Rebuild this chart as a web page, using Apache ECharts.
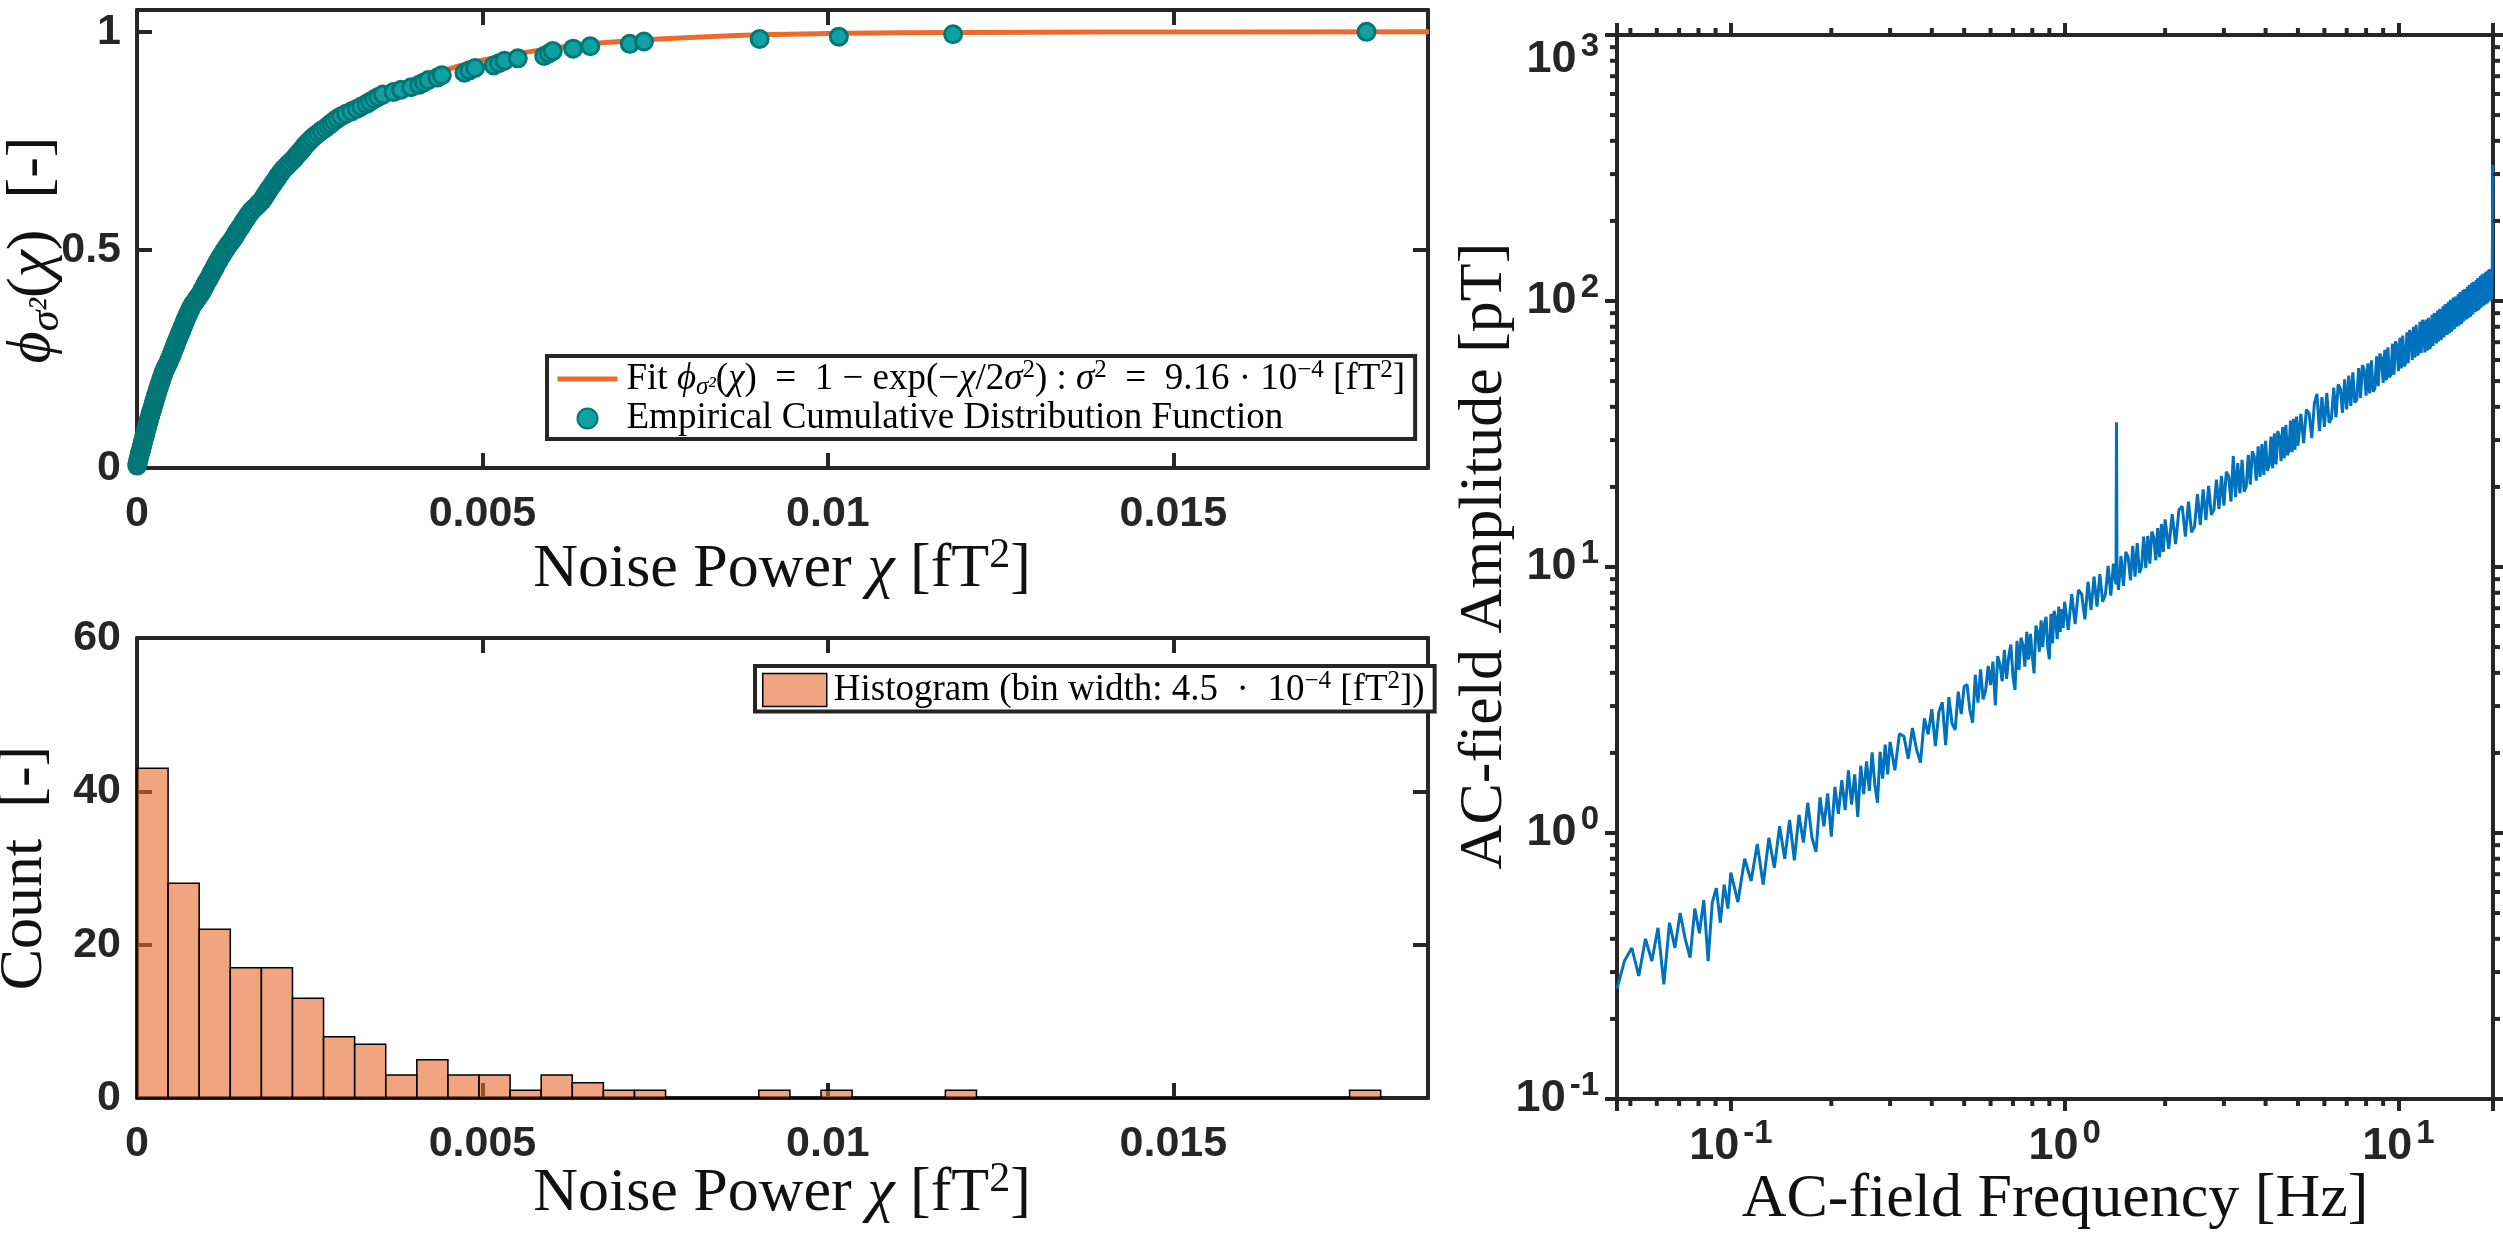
<!DOCTYPE html>
<html>
<head>
<meta charset="utf-8">
<script src="https://cdn.jsdelivr.net/npm/echarts@6/dist/echarts.min.js"></script>
<style>
  html, body { margin: 0; padding: 0; background: #fff; }
  #chart { width: 2503px; height: 1238px; }
</style>
</head>
<body>
<div id="chart"></div>
<script>
const noiseSamples = [
  0.000003, 0.000009, 0.000018, 0.000024, 0.000035, 0.000041, 0.000052, 0.000064, 0.000069, 0.000081,
  0.000088, 0.000097, 0.000106, 0.000119, 0.000124, 0.000137, 0.000146, 0.000152, 0.000166, 0.000171,
  0.000183, 0.000195, 0.000201, 0.000214, 0.000226, 0.000232, 0.000247, 0.000255, 0.000268, 0.000274,
  0.000289, 0.000296, 0.000311, 0.000318, 0.000332, 0.000345, 0.000352, 0.000368, 0.000379, 0.000391,
  0.000406, 0.000423, 0.000441,
  0.000458, 0.000471, 0.000489, 0.000502, 0.000511, 0.000528, 0.000544, 0.000553, 0.000569, 0.000581,
  0.000597, 0.000612, 0.000624, 0.000641, 0.000652, 0.000668, 0.000683, 0.000694, 0.000712, 0.000726,
  0.000741, 0.000758, 0.000774, 0.000791, 0.000812, 0.000838, 0.000861, 0.000887,
  0.000912, 0.000934, 0.000951, 0.000969, 0.000988, 0.001004, 0.001027, 0.001049, 0.001066, 0.001081,
  0.001102, 0.001124, 0.001139, 0.001157, 0.001178, 0.001196, 0.001221, 0.001243, 0.001262, 0.001287,
  0.001309, 0.001334,
  0.001362, 0.001388, 0.001409, 0.001431, 0.001447, 0.001476, 0.001498, 0.001523, 0.001541, 0.001567,
  0.001589, 0.001612, 0.001638, 0.001667, 0.001702, 0.001741, 0.001774,
  0.001809, 0.001832, 0.001851, 0.001878, 0.001896, 0.001921, 0.001947, 0.001968, 0.001994, 0.002019,
  0.002041, 0.002068, 0.002093, 0.002121, 0.002157, 0.002189, 0.002226,
  0.002263, 0.002291, 0.002318, 0.002352, 0.002384, 0.002409, 0.002437, 0.002471, 0.002503, 0.002541,
  0.002582, 0.002626, 0.002671,
  0.002724, 0.002768, 0.002811, 0.002853, 0.002902, 0.002958, 0.003027, 0.003104,
  0.003181, 0.003246, 0.003318, 0.003372, 0.003433, 0.003492, 0.003561,
  0.003712, 0.003824, 0.003968,
  0.004083, 0.004152, 0.004218, 0.004346, 0.004412,
  0.004738, 0.004812, 0.004893,
  0.005163, 0.005241, 0.005318,
  0.005512,
  0.005893, 0.005961, 0.006018,
  0.006312, 0.006561,
  0.007132, 0.007338,
  0.009012, 0.010158, 0.011812, 0.017795
];

// exponential fit
const fitX = [0, 0.00025, 0.0005, 0.00075, 0.001, 0.00125, 0.0015, 0.00175, 0.002, 0.0025, 0.003, 0.0035,
  0.004, 0.0045, 0.005, 0.006, 0.007, 0.008, 0.009, 0.010, 0.012, 0.014, 0.016, 0.0187];
const fitY = [0, 0.128, 0.239, 0.336, 0.421, 0.495, 0.559, 0.615, 0.664, 0.744, 0.806, 0.852,
  0.887, 0.914, 0.935, 0.962, 0.978, 0.987, 0.993, 0.996, 0.9986, 0.9995, 0.9998, 1.0];

// histogram
const histBinWidth = 0.00045;
const histCounts = [43, 28, 22, 17, 17, 13, 8, 7, 3, 5, 3, 3, 1, 3, 2, 1, 1, 0, 0, 0,
  1, 0, 1, 0, 0, 0, 1, 0, 0, 0, 0, 0, 0, 0, 0, 0, 0, 0, 0, 1];

// AC-field spectrum: frequency [Hz] and amplitude [pT]
const freqHz = [
  0.0456, 0.048, 0.0505, 0.053, 0.0555, 0.058, 0.0605, 0.063, 0.0655, 0.068,
  0.0705, 0.073, 0.0755, 0.078, 0.0805, 0.083, 0.0855, 0.088, 0.0905, 0.093,
  0.0955, 0.098,
  0.100, 0.105, 0.110, 0.115, 0.120, 0.125, 0.130, 0.135, 0.140, 0.145,
  0.150, 0.155, 0.160, 0.165, 0.170, 0.175, 0.180, 0.185, 0.190, 0.195,
  0.200, 0.205, 0.210, 0.215, 0.220, 0.225, 0.230, 0.235, 0.240, 0.245,
  0.250, 0.255, 0.260, 0.265, 0.270, 0.275, 0.280, 0.285, 0.290, 0.295,
  0.30, 0.31, 0.32, 0.33, 0.34, 0.35, 0.36, 0.37, 0.38, 0.39,
  0.40, 0.41, 0.42, 0.43, 0.44, 0.45, 0.46, 0.47, 0.48, 0.49,
  0.50, 0.51, 0.52, 0.53, 0.54, 0.55, 0.56, 0.57, 0.58, 0.59,
  0.60, 0.61, 0.62, 0.63, 0.64, 0.65, 0.66, 0.67, 0.68, 0.69,
  0.70, 0.71, 0.72, 0.73, 0.74, 0.75, 0.76, 0.77, 0.78, 0.79,
  0.80, 0.81, 0.82, 0.83, 0.84, 0.85, 0.86, 0.87, 0.88, 0.89,
  0.90, 0.91, 0.92, 0.93, 0.94, 0.95, 0.96, 0.97, 0.98, 0.99,
  1.000, 1.025, 1.050, 1.075, 1.100, 1.125, 1.150, 1.175, 1.200, 1.225,
  1.250, 1.275, 1.300, 1.325, 1.350, 1.375, 1.400, 1.425, 1.430, 1.435,
  1.450, 1.475, 1.500, 1.525, 1.550, 1.575, 1.600, 1.625, 1.650, 1.675,
  1.700, 1.725, 1.750, 1.775, 1.800, 1.825, 1.850, 1.875, 1.900, 1.925,
  1.950, 1.975,
  2.00, 2.05, 2.10, 2.15, 2.20, 2.25, 2.30, 2.35, 2.40, 2.45,
  2.50, 2.55, 2.60, 2.65, 2.70, 2.75, 2.80, 2.85, 2.90, 2.95,
  3.00, 3.05, 3.10, 3.15, 3.20, 3.25, 3.30, 3.35, 3.40, 3.45,
  3.50, 3.55, 3.60, 3.65, 3.70, 3.75, 3.80, 3.85, 3.90, 3.95,
  4.00, 4.05, 4.10, 4.15, 4.20, 4.25, 4.30, 4.35, 4.40, 4.45,
  4.50, 4.55, 4.60, 4.65, 4.70, 4.75, 4.80, 4.85, 4.90, 4.95,
  5.0, 5.1, 5.2, 5.3, 5.4, 5.5, 5.6, 5.7, 5.8, 5.9,
  6.0, 6.1, 6.2, 6.3, 6.4, 6.5, 6.6, 6.7, 6.8, 6.9,
  7.0, 7.1, 7.2, 7.3, 7.4, 7.5, 7.6, 7.7, 7.8, 7.9,
  8.0, 8.1, 8.2, 8.3, 8.4, 8.5, 8.6, 8.7, 8.8, 8.9,
  9.0, 9.1, 9.2, 9.3, 9.4, 9.5, 9.6, 9.7, 9.8, 9.9,
  10.0, 10.1, 10.2, 10.3, 10.4, 10.5, 10.6, 10.7, 10.8, 10.9,
  11.0, 11.1, 11.2, 11.3, 11.4, 11.5, 11.6, 11.7, 11.8, 11.9,
  12.0, 12.1, 12.2, 12.3, 12.4, 12.5, 12.6, 12.7, 12.8, 12.9,
  13.0, 13.1, 13.2, 13.3, 13.4, 13.5, 13.6, 13.7, 13.8, 13.9,
  14.0, 14.1, 14.2, 14.3, 14.4, 14.5, 14.6, 14.7, 14.8, 14.9,
  15.0, 15.1, 15.2, 15.3, 15.4, 15.5, 15.6, 15.7, 15.8, 15.9,
  16.0, 16.1, 16.2, 16.3, 16.4, 16.5, 16.6, 16.7, 16.8, 16.9,
  17.0, 17.1, 17.2, 17.3, 17.4, 17.5, 17.6, 17.7, 17.8, 17.9,
  18.0, 18.1, 18.2, 18.3, 18.4, 18.5, 18.6, 18.7, 18.8, 18.9,
  19.0, 19.1, 19.2
];
const ampPT = [
  0.26, 0.33, 0.37, 0.29, 0.40, 0.33, 0.44, 0.27, 0.46, 0.37,
  0.50, 0.40, 0.34, 0.52, 0.42, 0.56, 0.33, 0.55, 0.62, 0.46,
  0.64, 0.52,
  0.71, 0.55, 0.80, 0.66, 0.91, 0.64, 0.96, 0.74, 1.06, 0.80,
  1.12, 0.79, 1.17, 0.92, 1.30, 0.96, 0.85, 1.36, 1.06, 1.41,
  0.97, 1.49, 1.18, 1.58, 1.22, 1.72, 1.28, 1.66, 1.15, 1.79,
  1.40, 1.86, 1.44, 2.01, 1.52, 1.30, 2.02, 1.60, 2.15, 1.66,
  2.20, 1.72, 2.36, 2.31, 1.90, 2.48, 2.06, 1.84, 2.70, 2.35,
  2.92, 2.12, 2.85, 3.10, 2.14, 3.24, 2.58, 2.44, 3.40, 2.80,
  3.55, 3.62, 2.90, 2.60, 3.93, 3.09, 4.12, 3.18, 3.44, 4.25,
  3.60, 4.41, 3.02, 4.62, 4.30, 3.72, 4.88, 3.80, 4.60, 5.11,
  3.90, 3.45, 5.28, 4.10, 5.42, 5.10, 4.22, 5.70, 4.48, 5.60,
  4.62, 3.98, 6.02, 5.70, 4.80, 6.30, 5.00, 6.12, 6.50, 4.98,
  4.50, 6.67, 5.16, 6.85, 6.40, 5.35, 7.10, 5.70, 6.95, 5.90,
  7.40, 5.80, 7.90, 6.10, 8.20, 7.90, 6.35, 8.80, 6.90, 9.20,
  7.10, 9.40, 7.40, 7.90, 10.1, 7.80, 10.3, 8.60, 35.0, 9.80,
  8.20, 11.0, 8.50, 11.4, 10.9, 8.90, 12.0, 9.20, 12.3, 9.50,
  10.0, 13.0, 9.90, 13.1, 10.3, 13.6, 12.9, 10.6, 14.0, 10.9,
  14.5, 11.4,
  15.1, 11.7, 15.8, 12.2, 16.4, 16.9, 13.0, 17.6, 13.5, 14.2,
  18.8, 14.4, 19.6, 15.0, 20.2, 15.7, 16.4, 21.3, 16.5, 22.0,
  17.0, 22.8, 21.9, 17.6, 26.1, 18.3, 24.6, 18.9, 25.3, 19.2,
  20.1, 26.4, 20.4, 27.2, 26.0, 21.1, 28.4, 21.8, 29.0, 22.2,
  29.8, 23.0, 24.1, 30.9, 23.5, 31.8, 24.3, 32.4, 31.0, 25.0,
  33.6, 25.6, 34.2, 26.3, 27.5, 35.5, 27.0, 36.1, 27.6, 36.8,
  28.6, 37.6, 29.2, 39.1, 37.8, 30.5, 41.2, 44.8, 32.4, 43.5,
  33.6, 45.1, 34.8, 36.2, 47.2, 36.5, 48.6, 46.8, 38.0, 50.8,
  39.1, 52.4, 40.3, 53.9, 41.5, 42.6, 56.0, 43.2, 57.4, 55.0,
  44.1, 58.3, 44.9, 59.8, 45.6, 47.0, 61.9, 47.8, 63.4, 60.9,
  49.2, 65.6, 50.3, 67.0, 51.6, 53.0, 69.1, 52.9, 70.6, 67.8,
  54.5, 72.7, 55.8, 74.2, 56.9, 58.1, 76.3, 58.4, 77.8, 74.6,
  60.0, 79.9, 61.2, 81.4, 62.4, 63.9, 83.5, 63.8, 85.0, 81.5,
  64.0, 85.1, 65.1, 86.5, 66.1, 67.8, 88.7, 67.7, 90.0, 86.2,
  69.3, 92.1, 70.4, 93.5, 71.5, 73.3, 95.6, 73.0, 97.1, 92.9,
  74.6, 99.1, 75.7, 101, 76.8, 78.7, 103, 78.4, 104, 99.5,
  80.0, 106, 81.0, 108, 82.1, 84.1, 110, 83.7, 111, 106,
  85.3, 113, 86.4, 115, 87.4, 89.5, 117, 89.0, 118, 113,
  90.7, 120, 91.7, 122, 92.8, 94.9, 124, 94.3, 126, 120,
  96.0, 127, 97.1, 129, 98.1, 100, 131, 99.7, 132, 126,
  101, 134, 325
];

const noiseMax = 0.018685;
const xLogMin = 0.0456, xLogMax = 19.2;
const yLogMin = 0.1, yLogMax = 1000;

const INK = '#262626';
const SANS = '"Liberation Sans", Arial, Helvetica, sans-serif';
const SERIF = '"Liberation Serif", "Times New Roman", serif';

const ecdfData = noiseSamples.map((x, i) => [x, (i + 1) / noiseSamples.length]);
const fitData = fitX.map((x, i) => [x, fitY[i]]);
const histData = histCounts.map((c, i) => [i * histBinWidth, (i + 1) * histBinWidth, c]);
const specData = freqHz.map((f, i) => [f, ampPT[i]]);

// minor tick positions of the log-log panel
const minorX = [];
for (let k = -2; k <= 1; k++) {
  for (let m = 2; m <= 9; m++) {
    const v = m * Math.pow(10, k);
    if (v > xLogMin && v < xLogMax) minorX.push(v);
  }
}
const minorY = [];
for (let k = -1; k <= 2; k++) {
  for (let m = 2; m <= 9; m++) minorY.push(m * Math.pow(10, k));
}

const tickFont = { fontFamily: SANS, fontWeight: 'bold', fontSize: 43, color: INK };
const lineStyleAx = { color: INK, width: 4 };

function stepLabel (step) {
  return v => {
    const r = v / step;
    return Math.abs(r - Math.round(r)) < 1e-6 ? String(+v.toFixed(4)) : '';
  };
}

function powLabel (v) {
  const l = Math.log10(v);
  const e = Math.round(l);
  if (Math.abs(l - e) > 1e-6) return '';
  const s = '{b|10}{s|' + e + '}';
  return e === 3 ? '{gap| }\n' + s : s;
}

const powRich = {
  b: { fontFamily: SANS, fontWeight: 'bold', fontSize: 45, lineHeight: 60, color: INK },
  s: { fontFamily: SANS, fontWeight: 'bold', fontSize: 33, lineHeight: 32, color: INK, verticalAlign: 'top', padding: [0, 0, 0, 4] },
  gap: { fontSize: 10, lineHeight: 50 }
};

function linAxis (gridIndex, position, min, max, interval, showLabel, margin) {
  return {
    gridIndex, type: 'value', position, min, max, interval,
    axisLine: { show: true, onZero: false, lineStyle: lineStyleAx },
    axisTick: { show: true, inside: true, length: 15, lineStyle: lineStyleAx },
    axisLabel: showLabel
      ? { ...tickFont, margin, formatter: stepLabel(interval) }
      : { show: false },
    splitLine: { show: false }
  };
}

function logAxis (gridIndex, position, min, max, showLabel, margin) {
  return {
    gridIndex, type: 'log', logBase: 10, position, min, max,
    axisLine: { show: true, onZero: false, lineStyle: lineStyleAx },
    axisTick: { show: true, inside: false, length: 12, lineStyle: lineStyleAx },
    axisLabel: showLabel
      ? { margin, formatter: powLabel, rich: powRich }
      : { show: false },
    splitLine: { show: false },
    minorTick: { show: false }
  };
}

const tRich = {
  r: { fontFamily: SERIF, fontSize: 62, color: '#111', lineHeight: 70 },
  i: { fontFamily: SERIF, fontSize: 62, fontStyle: 'italic', color: '#111', lineHeight: 70 },
  sp: { fontFamily: SERIF, fontSize: 42, color: '#111', lineHeight: 42, verticalAlign: 'top' },
  sb: { fontFamily: SERIF, fontSize: 42, fontStyle: 'italic', color: '#111', lineHeight: 42, verticalAlign: 'bottom' }
};

const lRich = {
  r: { fontFamily: SERIF, fontSize: 37, color: '#000', lineHeight: 42 },
  i: { fontFamily: SERIF, fontSize: 37, fontStyle: 'italic', color: '#000', lineHeight: 42 },
  sp: { fontFamily: SERIF, fontSize: 25, color: '#000', lineHeight: 25, verticalAlign: 'top' },
  sb: { fontFamily: SERIF, fontSize: 25, fontStyle: 'italic', color: '#000', lineHeight: 25, verticalAlign: 'bottom' }
};

const legendText = {
  fit: '{r|Fit }{i|ϕ}{sb|σ²}{r|(}{i|χ}{r|)  =  1 − exp(−}{i|χ}{r|/2}{i|σ}{sp|2}{r|) : }{i|σ}{sp|2}{r|  =  9.16 · 10}{sp|−4}{r| [fT}{sp|2}{r|]}',
  ecdf: '{r|Empirical Cumulative Distribution Function}',
  hist: '{r|Histogram (bin width: 4.5  ·  10}{sp|−4}{r| [fT}{sp|2}{r|])}'
};

function title (x, y, text, rotate) {
  return {
    type: 'text', x, y, rotation: rotate ? Math.PI / 2 : 0, silent: true, z: 10,
    style: { text, rich: tRich, align: 'center', verticalAlign: 'middle', fill: '#111' }
  };
}

const chart = echarts.init(document.getElementById('chart'));
chart.setOption({
  animation: false,
  backgroundColor: '#fff',
  grid: [
    { left: 137, top: 10, width: 1291, height: 458 },
    { left: 137, top: 638, width: 1291, height: 460 },
    { left: 1617, top: 13, width: 876, height: 1086 }
  ],
  xAxis: [
    linAxis(0, 'bottom', 0, noiseMax, 0.005, true, 25),
    linAxis(0, 'top', 0, noiseMax, 0.005, false),
    linAxis(1, 'bottom', 0, noiseMax, 0.005, true, 25),
    linAxis(1, 'top', 0, noiseMax, 0.005, false),
    logAxis(2, 'bottom', xLogMin, xLogMax, true, 18),
    logAxis(2, 'top', xLogMin, xLogMax, false)
  ],
  yAxis: [
    linAxis(0, 'left', 0, 1.05, 0.5, true, 16),
    linAxis(0, 'right', 0, 1.05, 0.5, false),
    linAxis(1, 'left', 0, 60, 20, true, 16),
    linAxis(1, 'right', 0, 60, 20, false),
    logAxis(2, 'left', yLogMin, yLogMax, true, 18),
    logAxis(2, 'right', yLogMin, yLogMax, false)
  ],
  legend: [
    {
      orient: 'vertical', left: 547, top: 356,
      itemWidth: 60, itemHeight: 20, itemGap: 0,
      padding: [2, 10, 2, 8],
      borderColor: INK, borderWidth: 4, backgroundColor: '#fff',
      selectedMode: false,
      data: [
        {
          name: 'fit',
          itemStyle: { color: 'rgba(0,0,0,0)', borderColor: 'rgba(0,0,0,0)', borderWidth: 0 },
          lineStyle: { color: '#EC6A2C', width: 5 }
        },
        { name: 'ecdf', icon: 'circle' }
      ],
      formatter: n => legendText[n],
      textStyle: { rich: lRich, padding: [0, 0, 0, 4] }
    },
    {
      orient: 'vertical', left: 755, top: 666,
      itemWidth: 64, itemHeight: 33, itemGap: 0,
      padding: [3, 10, 3, 7],
      borderColor: INK, borderWidth: 4, backgroundColor: '#fff',
      selectedMode: false,
      data: [{ name: 'hist', icon: 'rect', itemStyle: { color: '#F0A47F', borderColor: '#000', borderWidth: 1.5 } }],
      formatter: n => legendText[n],
      textStyle: { rich: lRich, padding: [0, 0, 0, 2] }
    }
  ],
  series: [
    {
      name: 'fit', type: 'line', xAxisIndex: 0, yAxisIndex: 0,
      data: fitData, smooth: true, symbol: 'none', showSymbol: false, z: 2,
      lineStyle: { color: '#EC6A2C', width: 5 },
      itemStyle: { color: '#EC6A2C' }
    },
    {
      name: 'ecdf', type: 'scatter', xAxisIndex: 0, yAxisIndex: 0,
      data: ecdfData, symbol: 'circle', symbolSize: 17, z: 3,
      itemStyle: { color: '#10A2A2', borderColor: '#007676', borderWidth: 3, opacity: 1 }
    },
    {
      name: 'hist', type: 'custom', xAxisIndex: 2, yAxisIndex: 2, z: 3,
      data: histData,
      encode: { x: [0, 1], y: 2 },
      itemStyle: { color: 'rgba(230,103,42,0.6)', borderColor: '#000', borderWidth: 1.5 },
      renderItem (params, api) {
        const p0 = api.coord([api.value(0), api.value(2)]);
        const p1 = api.coord([api.value(1), 0]);
        return {
          type: 'rect',
          shape: { x: p0[0], y: p0[1], width: p1[0] - p0[0], height: p1[1] - p0[1] },
          style: { fill: 'rgba(230,103,42,0.6)', stroke: '#000', lineWidth: 1.5 }
        };
      }
    },
    {
      name: 'spectrum', type: 'line', xAxisIndex: 4, yAxisIndex: 4,
      data: specData, symbol: 'none', showSymbol: false, z: 3,
      lineStyle: { color: '#0072BD', width: 3 }
    },
    {
      name: 'minorX', type: 'custom', xAxisIndex: 4, yAxisIndex: 4, silent: true, z: 4,
      data: minorX.map(v => [v, yLogMin]),
      renderItem (params, api) {
        const v = api.value(0);
        const b = api.coord([v, yLogMin]);
        const t = api.coord([v, yLogMax]);
        const st = { stroke: INK, lineWidth: 4 };
        return {
          type: 'group',
          children: [
            { type: 'line', shape: { x1: b[0], y1: b[1], x2: b[0], y2: b[1] + 7 }, style: st },
            { type: 'line', shape: { x1: t[0], y1: t[1], x2: t[0], y2: t[1] - 7 }, style: st }
          ]
        };
      }
    },
    {
      name: 'minorY', type: 'custom', xAxisIndex: 4, yAxisIndex: 4, silent: true, z: 4,
      data: minorY.map(v => [xLogMin, v]),
      renderItem (params, api) {
        const v = api.value(1);
        const l = api.coord([xLogMin, v]);
        const r = api.coord([xLogMax, v]);
        const st = { stroke: INK, lineWidth: 4 };
        return {
          type: 'group',
          children: [
            { type: 'line', shape: { x1: l[0], y1: l[1], x2: l[0] - 7, y2: l[1] }, style: st },
            { type: 'line', shape: { x1: r[0], y1: r[1], x2: r[0] + 7, y2: r[1] }, style: st }
          ]
        };
      }
    }
  ],
  graphic: [
    title(782, 570, '{r|Noise Power }{i|χ}{r| [fT}{sp|2}{r|]}'),
    title(782, 1194, '{r|Noise Power }{i|χ}{r| [fT}{sp|2}{r|]}'),
    title(2055, 1200, '{r|AC-field Frequency [Hz]}'),
    title(33, 250, '{i|ϕ}{sb|σ²}{r|(}{i|χ}{r|)  [-]}', true),
    title(25, 868, '{r|Count  [-]}', true),
    title(1485, 556, '{r|AC-field Amplitude [pT]}', true)
  ]
});
</script>
</body>
</html>
